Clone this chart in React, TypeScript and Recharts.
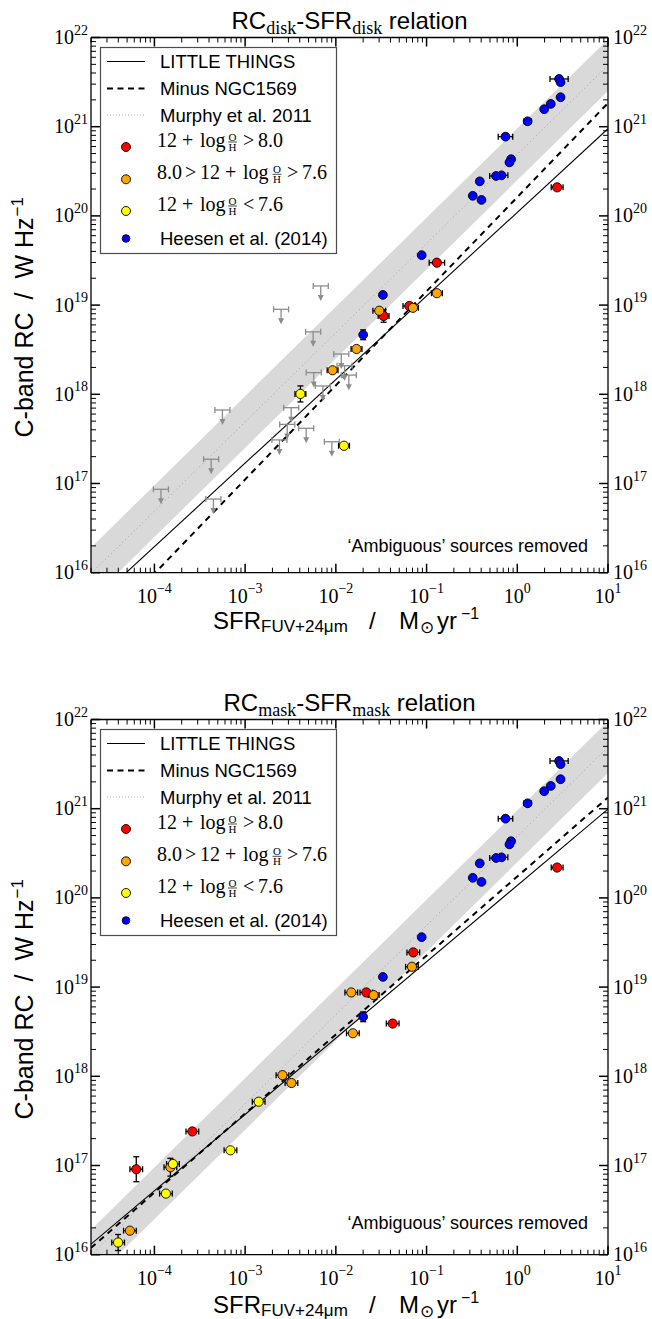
import React from 'react';
import { ComposedChart, Scatter, Line, Area, XAxis, YAxis, ErrorBar, Legend, Label } from 'recharts';

const SANS = '"Liberation Sans", Arial, Helvetica, sans-serif';
const SERIF = '"Liberation Serif", "Times New Roman", serif';

// Plot frame (pixels inside each chart)
const CHART_W = 652;
const CHART_H = 660;
const PLOT_LEFT = 91;
const PLOT_RIGHT = 608;
const PLOT_TOP = 37.5;
const PLOT_BOTTOM = 572.7;

// Axis ranges
const SFR_MIN = 2e-5;
const SFR_MAX = 10;
const RC_MIN = 1e16;
const RC_MAX = 1e22;
const X_DECADES = [-5, -4, -3, -2, -1, 0, 1];
const Y_DECADES = [16, 17, 18, 19, 20, 21, 22];
const MULTIPLES = [1, 2, 3, 4, 5, 6, 7, 8, 9];

// Fitted relations: [slope, intercept] in log10 space
const diskLittleThingsFit = [0.937, 20.04];
const diskMinusNgc1569Fit = [1.055, 20.21];
const maskLittleThingsFit = [0.856, 20.14];
const maskMinusNgc1569Fit = [0.886, 20.24];
const murphyFit = [1.0, 20.69];
const murphyScatterDex = 0.29;

// Heesen et al. (2014) galaxies (same in both panels)
const heesenSfr = [2.89, 3.0, 3.0, 2.34, 1.98, 1.3, 0.741, 0.855, 0.82, 0.67, 0.583, 0.386, 0.323, 0.403, 0.0883, 0.033, 0.02];
const heesenRc = [3.43e21, 3.16e21, 2.14e21, 1.8e21, 1.57e21, 1.15e21, 7.73e20, 4.32e20, 3.98e20, 2.85e20, 2.8e20, 2.44e20, 1.68e20, 1.51e20, 3.63e19, 1.3e19, 4.65e18];
const heesenSfrErr = [0.1, 0, 0, 0, 0, 0.04, 0.08, 0, 0, 0.07, 0.07, 0, 0, 0, 0, 0, 0];
const heesenRcErr = [0, 0, 0, 0, 0, 0, 0, 0, 0, 0, 0, 0, 0, 0, 0, 0, 0.055];

// Disk: LITTLE THINGS detections by metallicity
const diskHighZSfr = [2.75, 0.13, 0.0646, 0.0336];
const diskHighZRc = [2.09e20, 2.99e19, 9.77e18, 7.55e18];
const diskHighZSfrErr = [0.065, 0.085, 0.07, 0.06];
const diskHighZRcErr = [0, 0, 0, 0.07];

const diskMidZSfr = [0.13, 0.0708, 0.0301, 0.0169, 0.0092];
const diskMidZRc = [1.36e19, 9.33e18, 8.65e18, 3.22e18, 1.86e18];
const diskMidZSfrErr = [0.06, 0.06, 0.07, 0.06, 0.06];

const diskLowZSfr = [0.00407, 0.0123];
const diskLowZRc = [1.01e18, 2.65e17];
const diskLowZSfrErr = [0.06, 0.06];
const diskLowZRcErr = [0.09, 0];

// Disk: upper limits
const diskLimitSfr = [0.00682, 0.00249, 0.00562, 0.01148, 0.01247, 0.0139, 0.00571, 0.00719, 0.00322, 0.00291, 0.00471, 0.00239, 0.00904, 0.000562, 0.000422, 0.000118, 0.000447];
const diskLimitRc = [1.64e19, 8.97e18, 5.01e18, 2.83e18, 2.09e18, 1.64e18, 1.75e18, 1.24e18, 7.08e17, 4.6e17, 4.16e17, 3.08e17, 2.94e17, 6.67e17, 1.87e17, 8.61e16, 6.7e16];
const diskLimitSfrErr = diskLimitSfr.map(() => 0.083);

// Mask: LITTLE THINGS detections by metallicity
const maskHighZSfr = [2.75, 0.0714, 0.0217, 0.0423, 0.000262, 0.0000631];
const maskHighZRc = [2.19e20, 2.45e19, 8.71e18, 3.9e18, 2.41e17, 9.08e16];
const maskHighZSfrErr = [0.065, 0.07, 0.07, 0.07, 0.07, 0.07];
const maskHighZRcErr = [0, 0, 0, 0, 0, 0.14];

const maskMidZSfr = [0.069, 0.0148, 0.0261, 0.0154, 0.00258, 0.00324, 0.00015, 0.0000537];
const maskMidZRc = [1.69e19, 8.71e18, 8.13e18, 3.04e18, 1.03e18, 8.41e17, 9.57e16, 1.86e16];
const maskMidZSfrErr = [0.07, 0.07, 0.06, 0.07, 0.07, 0.07, 0.07, 0.07];
const maskMidZRcErr = [0, 0, 0, 0, 0, 0, 0.1, 0];

const maskLowZSfr = [0.00141, 0.000689, 0.00016, 0.000134, 0.0000398];
const maskLowZRc = [5.19e17, 1.48e17, 1.04e17, 4.84e16, 1.37e16];
const maskLowZSfrErr = [0.07, 0.07, 0.07, 0.07, 0.07];
const maskLowZRcErr = [0, 0, 0, 0, 0.09];

const RED = '#ff0000';
const ORANGE = '#ffa500';
const YELLOW = '#ffff00';
const BLUE = '#0000ff';
const GREY = '#8c8c8c';
const BAND = '#d9d9d9';

const makeTicks = (decades: number[], lo: number, hi: number) =>
  decades
    .flatMap((d) => MULTIPLES.map((m) => Number(`${m}e${d}`)))
    .filter((v) => v >= lo * (1 - 1e-9) && v <= hi * (1 + 1e-9));

const X_TICKS = makeTicks(X_DECADES, SFR_MIN, SFR_MAX);
const Y_TICKS = makeTicks(Y_DECADES, RC_MIN, RC_MAX);

const fitValue = (fit: number[], x: number) => Math.pow(10, fit[0] * Math.log10(x) + fit[1]);

const dexErr = (v: number, dex?: number) =>
  dex ? [v - v / Math.pow(10, dex), v * Math.pow(10, dex) - v] : undefined;

const toPoints = (sfr: number[], rc: number[], sfrErr?: number[], rcErr?: number[]) =>
  sfr.map((x, i) => ({
    x,
    y: rc[i],
    ex: dexErr(x, sfrErr ? sfrErr[i] : 0),
    ey: dexErr(rc[i], rcErr ? rcErr[i] : 0),
  }));

const isDecade = (v: number) => Math.abs(Math.log10(v) - Math.round(Math.log10(v))) < 1e-6;
const expText = (v: number) => {
  const n = Math.round(Math.log10(v));
  return n < 0 ? `\u2212${Math.abs(n)}` : String(n);
};

const PowerLabel = ({ x, y, v, anchor }: { x: number; y: number; v: number; anchor: string }) => (
  <text x={x} y={y} textAnchor={anchor as any} fontFamily={SERIF} fontSize={20} fill="#000">
    10
    <tspan dy={-9.5} fontSize={14}>
      {expText(v)}
    </tspan>
  </text>
);

const BottomTick = (p: any) => {
  const v = p.payload.value;
  const major = isDecade(v);
  return (
    <g>
      <line x1={p.x} x2={p.x} y1={p.y} y2={p.y - (major ? 9 : 5)} stroke="#000" strokeWidth={major ? 1.5 : 1} />
      {major && <PowerLabel x={p.x} y={p.y + 30} v={v} anchor="middle" />}
    </g>
  );
};

const TopTick = (p: any) => {
  const major = isDecade(p.payload.value);
  return <line x1={p.x} x2={p.x} y1={p.y} y2={p.y + (major ? 9 : 5)} stroke="#000" strokeWidth={major ? 1.5 : 1} />;
};

const LeftTick = (p: any) => {
  const v = p.payload.value;
  const major = isDecade(v);
  return (
    <g>
      <line x1={p.x} x2={p.x + (major ? 9 : 5)} y1={p.y} y2={p.y} stroke="#000" strokeWidth={major ? 1.5 : 1} />
      {major && <PowerLabel x={p.x - 3} y={p.y + 6.5} v={v} anchor="end" />}
    </g>
  );
};

const RightTick = (p: any) => {
  const v = p.payload.value;
  const major = isDecade(v);
  return (
    <g>
      <line x1={p.x} x2={p.x - (major ? 9 : 5)} y1={p.y} y2={p.y} stroke="#000" strokeWidth={major ? 1.5 : 1} />
      {major && <PowerLabel x={p.x + 5} y={p.y + 6.5} v={v} anchor="start" />}
    </g>
  );
};

const dotShape = (fill: string, r: number) => (p: any) =>
  p.cx == null || p.cy == null ? null : (
    <circle cx={p.cx} cy={p.cy} r={r} fill={fill} stroke="#000" strokeWidth={0.9} />
  );

const LimitArrow = (p: any) => {
  const { cx, cy } = p;
  if (cx == null || cy == null) return null;
  return (
    <g>
      <line x1={cx} x2={cx} y1={cy} y2={cy + 10} stroke={GREY} strokeWidth={1.3} />
      <polygon points={`${cx - 3},${cy + 9} ${cx + 3},${cy + 9} ${cx},${cy + 15}`} fill={GREY} />
    </g>
  );
};

const Frac = ({ cx, y }: { cx: number; y: number }) => (
  <g fontFamily={SERIF} fontSize={11} fill="#000">
    <text x={cx} y={y - 6.3} textAnchor="middle">O</text>
    <line x1={cx - 4.5} x2={cx + 4.5} y1={y - 5} y2={y - 5} stroke="#000" strokeWidth={0.7} />
    <text x={cx} y={y + 3.8} textAnchor="middle">H</text>
  </g>
);

const MathRow = ({ y, parts }: { y: number; parts: [number, string][] }) => (
  <g fontFamily={SERIF} fontSize={20} fill="#000">
    {parts.map(([x, s], i) =>
      s === 'O/H' ? <Frac key={i} cx={x} y={y} /> : (
        <text key={i} x={x} y={y}>
          {s}
        </text>
      )
    )}
  </g>
);

const LegendBox = () => (
  <svg width={237} height={207} style={{ display: 'block', overflow: 'visible' }}>
    <rect x={0.5} y={0.5} width={236} height={206} fill="#fff" stroke="#4d4d4d" strokeWidth={1.2} />
    <g fontFamily={SANS} fontSize={18.5} fill="#000">
      <line x1={7} x2={45} y1={14.5} y2={14.5} stroke="#000" strokeWidth={1} />
      <text x={60} y={21}>LITTLE THINGS</text>
      <line x1={7} x2={45} y1={41.5} y2={41.5} stroke="#000" strokeWidth={2} strokeDasharray="6 4.5" />
      <text x={60} y={48}>Minus NGC1569</text>
      <line x1={7} x2={45} y1={68} y2={68} stroke="#b0b0b0" strokeWidth={1} strokeDasharray="1 2" />
      <text x={60} y={74.5}>Murphy et al. 2011</text>
      <text x={60} y={198}>Heesen et al. (2014)</text>
    </g>
    <circle cx={26} cy={100} r={4.5} fill={RED} stroke="#000" strokeWidth={0.9} />
    <circle cx={26} cy={132.3} r={4.5} fill={ORANGE} stroke="#000" strokeWidth={0.9} />
    <circle cx={26} cy={164} r={4.5} fill={YELLOW} stroke="#000" strokeWidth={0.9} />
    <circle cx={26} cy={191.5} r={3.8} fill={BLUE} stroke="#000" strokeWidth={0.9} />
    <MathRow y={100} parts={[[57, '12'], [82, '+'], [100, 'log'], [132.5, 'O/H'], [143, '>'], [158, '8.0']]} />
    <MathRow
      y={132.3}
      parts={[[57, '8.0'], [85, '>'], [100, '12'], [125, '+'], [143, 'log'], [177, 'O/H'], [187, '>'], [202, '7.6']]}
    />
    <MathRow y={164} parts={[[57, '12'], [82, '+'], [100, 'log'], [132.5, 'O/H'], [143, '<'], [158, '7.6']]} />
  </svg>
);

const AXIS_LINE = { stroke: '#000', strokeWidth: 1.3 };

type PanelProps = {
  top: number;
  sub: string;
  titleY: number;
  labelY: number;
  ambY: number;
  ltFit: number[];
  ngcFit: number[];
  limits?: { x: number; y: number; ex?: number[] }[];
  high: any[];
  mid: any[];
  low: any[];
};

function Panel({ top, sub, titleY, labelY, ambY, ltFit, ngcFit, limits, high, mid, low }: PanelProps) {
  const lineData = [SFR_MIN, SFR_MAX].map((x) => {
    const m = fitValue(murphyFit, x);
    const k = Math.pow(10, murphyScatterDex);
    return { x, lt: fitValue(ltFit, x), ngc: fitValue(ngcFit, x), mu: m, band: [m / k, m * k] };
  });
  const heesen = toPoints(heesenSfr, heesenRc, heesenSfrErr, heesenRcErr);

  const errBars = (color: string) => [
    <ErrorBar key="ex" dataKey="ex" direction="x" width={3} stroke={color} strokeWidth={1.3} isAnimationActive={false} />,
    <ErrorBar key="ey" dataKey="ey" direction="y" width={3} stroke={color} strokeWidth={1.3} isAnimationActive={false} />,
  ];

  return (
    <div style={{ position: 'absolute', left: 0, top, width: CHART_W, height: CHART_H }}>
      <ComposedChart width={CHART_W} height={CHART_H} data={lineData} margin={{ top: 30, right: 0, bottom: 0, left: 0 }}>
        <XAxis
          xAxisId="b"
          dataKey="x"
          type="number"
          scale="log"
          orientation="bottom"
          domain={[SFR_MIN, SFR_MAX]}
          allowDataOverflow
          ticks={X_TICKS}
          interval={0}
          tick={BottomTick}
          tickLine={false}
          tickSize={0}
          tickMargin={0}
          axisLine={AXIS_LINE}
          height={CHART_H - PLOT_BOTTOM}
        >
          <Label
            content={() => (
              <text y={labelY} fontFamily={SANS} fill="#000">
                <tspan x={213} fontSize={24}>SFR</tspan>
                <tspan x={261} dy={3} fontSize={17}>FUV+24μm</tspan>
                <tspan x={369} dy={-3} fontSize={24}>/</tspan>
                <tspan x={399} fontSize={24}>M</tspan>
                <tspan x={420} dy={4} fontSize={17}>⊙</tspan>
                <tspan x={437} dy={-4} fontSize={24}>yr</tspan>
                <tspan x={461} dy={-10} fontSize={16}>−1</tspan>
              </text>
            )}
          />
          <Label
            content={() => (
              <text x={PLOT_RIGHT - 20} y={ambY} textAnchor="end" fontFamily={SANS} fontSize={18} fill="#000">
                ‘Ambiguous’ sources removed
              </text>
            )}
          />
        </XAxis>
        <XAxis
          xAxisId="t"
          dataKey="x"
          type="number"
          scale="log"
          orientation="top"
          domain={[SFR_MIN, SFR_MAX]}
          allowDataOverflow
          ticks={X_TICKS}
          interval={0}
          tick={TopTick}
          tickLine={false}
          tickSize={0}
          tickMargin={0}
          axisLine={AXIS_LINE}
          height={PLOT_TOP - 30}
        >
          <Label
            content={() => (
              <text x={(PLOT_LEFT + PLOT_RIGHT) / 2} y={titleY} textAnchor="middle" fontFamily={SANS} fontSize={24} fill="#000">
                RC
                <tspan dy={5} fontFamily={SERIF} fontSize={18}>{sub}</tspan>
                <tspan dy={-5}>-SFR</tspan>
                <tspan dy={5} fontFamily={SERIF} fontSize={18}>{sub}</tspan>
                <tspan dy={-5}> relation</tspan>
              </text>
            )}
          />
        </XAxis>
        <YAxis
          yAxisId="l"
          dataKey="y"
          type="number"
          scale="log"
          orientation="left"
          domain={[RC_MIN, RC_MAX]}
          allowDataOverflow
          ticks={Y_TICKS}
          interval={0}
          tick={LeftTick}
          tickLine={false}
          tickSize={0}
          tickMargin={0}
          axisLine={AXIS_LINE}
          width={PLOT_LEFT}
        >
          <Label
            content={() => (
              <text transform={`translate(33, ${PLOT_TOP + 400}) rotate(-90)`} fontFamily={SANS} fontSize={25} fill="#000">
                <tspan>C-band RC</tspan>
                <tspan dx={13}>/</tspan>
                <tspan dx={14}>W Hz</tspan>
                <tspan dx={1} dy={-10} fontSize={17}>−1</tspan>
              </text>
            )}
          />
        </YAxis>
        <YAxis
          yAxisId="r"
          dataKey="y"
          type="number"
          scale="log"
          orientation="right"
          domain={[RC_MIN, RC_MAX]}
          allowDataOverflow
          ticks={Y_TICKS}
          interval={0}
          tick={RightTick}
          tickLine={false}
          tickSize={0}
          tickMargin={0}
          axisLine={AXIS_LINE}
          width={CHART_W - PLOT_RIGHT}
        />

        <Area
          xAxisId="b"
          yAxisId="l"
          type="linear"
          dataKey="band"
          stroke="none"
          fill={BAND}
          fillOpacity={1}
          isAnimationActive={false}
          dot={false}
          activeDot={false}
        />
        <Line xAxisId="b" yAxisId="l" type="linear" dataKey="mu" stroke="#a0a0a0" strokeWidth={1} strokeDasharray="1 3" dot={false} activeDot={false} isAnimationActive={false} />
        <Line xAxisId="b" yAxisId="l" type="linear" dataKey="lt" stroke="#000" strokeWidth={1.1} dot={false} activeDot={false} isAnimationActive={false} />
        <Line xAxisId="b" yAxisId="l" type="linear" dataKey="ngc" stroke="#000" strokeWidth={2} strokeDasharray="6 5" dot={false} activeDot={false} isAnimationActive={false} />

        {limits && (
          <Scatter xAxisId="b" yAxisId="l" data={limits} shape={LimitArrow} fill={GREY} isAnimationActive={false}>
            <ErrorBar dataKey="ex" direction="x" width={3} stroke={GREY} strokeWidth={1.3} isAnimationActive={false} />
          </Scatter>
        )}
        <Scatter xAxisId="b" yAxisId="l" data={heesen} shape={dotShape(BLUE, 4.4)} fill={BLUE} isAnimationActive={false}>
          {errBars('#000')}
        </Scatter>
        <Scatter xAxisId="b" yAxisId="l" data={high} shape={dotShape(RED, 4.6)} fill={RED} isAnimationActive={false}>
          {errBars('#000')}
        </Scatter>
        <Scatter xAxisId="b" yAxisId="l" data={mid} shape={dotShape(ORANGE, 4.6)} fill={ORANGE} isAnimationActive={false}>
          {errBars('#000')}
        </Scatter>
        <Scatter xAxisId="b" yAxisId="l" data={low} shape={dotShape(YELLOW, 4.6)} fill={YELLOW} isAnimationActive={false}>
          {errBars('#000')}
        </Scatter>

        <Legend
          layout="vertical"
          align="center"
          verticalAlign="middle"
          content={() => <LegendBox />}
          wrapperStyle={{ left: 100, top: 46.7, width: 237, height: 207, margin: 0, padding: 0 }}
        />
      </ComposedChart>
    </div>
  );
}

export default function App() {
  const diskLimits = toPoints(diskLimitSfr, diskLimitRc, diskLimitSfrErr);
  return (
    <div style={{ position: 'absolute', left: 0, top: 0, width: 652, height: 1319, background: '#fff' }}>
      <Panel
        top={0}
        sub="disk"
        titleY={29}
        labelY={PLOT_BOTTOM + 56}
        ambY={PLOT_BOTTOM - 21}
        ltFit={diskLittleThingsFit}
        ngcFit={diskMinusNgc1569Fit}
        limits={diskLimits}
        high={toPoints(diskHighZSfr, diskHighZRc, diskHighZSfrErr, diskHighZRcErr)}
        mid={toPoints(diskMidZSfr, diskMidZRc, diskMidZSfrErr)}
        low={toPoints(diskLowZSfr, diskLowZRc, diskLowZSfrErr, diskLowZRcErr)}
      />
      <Panel
        top={682}
        sub="mask"
        titleY={28.5}
        labelY={PLOT_BOTTOM + 58}
        ambY={PLOT_BOTTOM - 26}
        ltFit={maskLittleThingsFit}
        ngcFit={maskMinusNgc1569Fit}
        high={toPoints(maskHighZSfr, maskHighZRc, maskHighZSfrErr, maskHighZRcErr)}
        mid={toPoints(maskMidZSfr, maskMidZRc, maskMidZSfrErr, maskMidZRcErr)}
        low={toPoints(maskLowZSfr, maskLowZRc, maskLowZSfrErr, maskLowZRcErr)}
      />
    </div>
  );
}
